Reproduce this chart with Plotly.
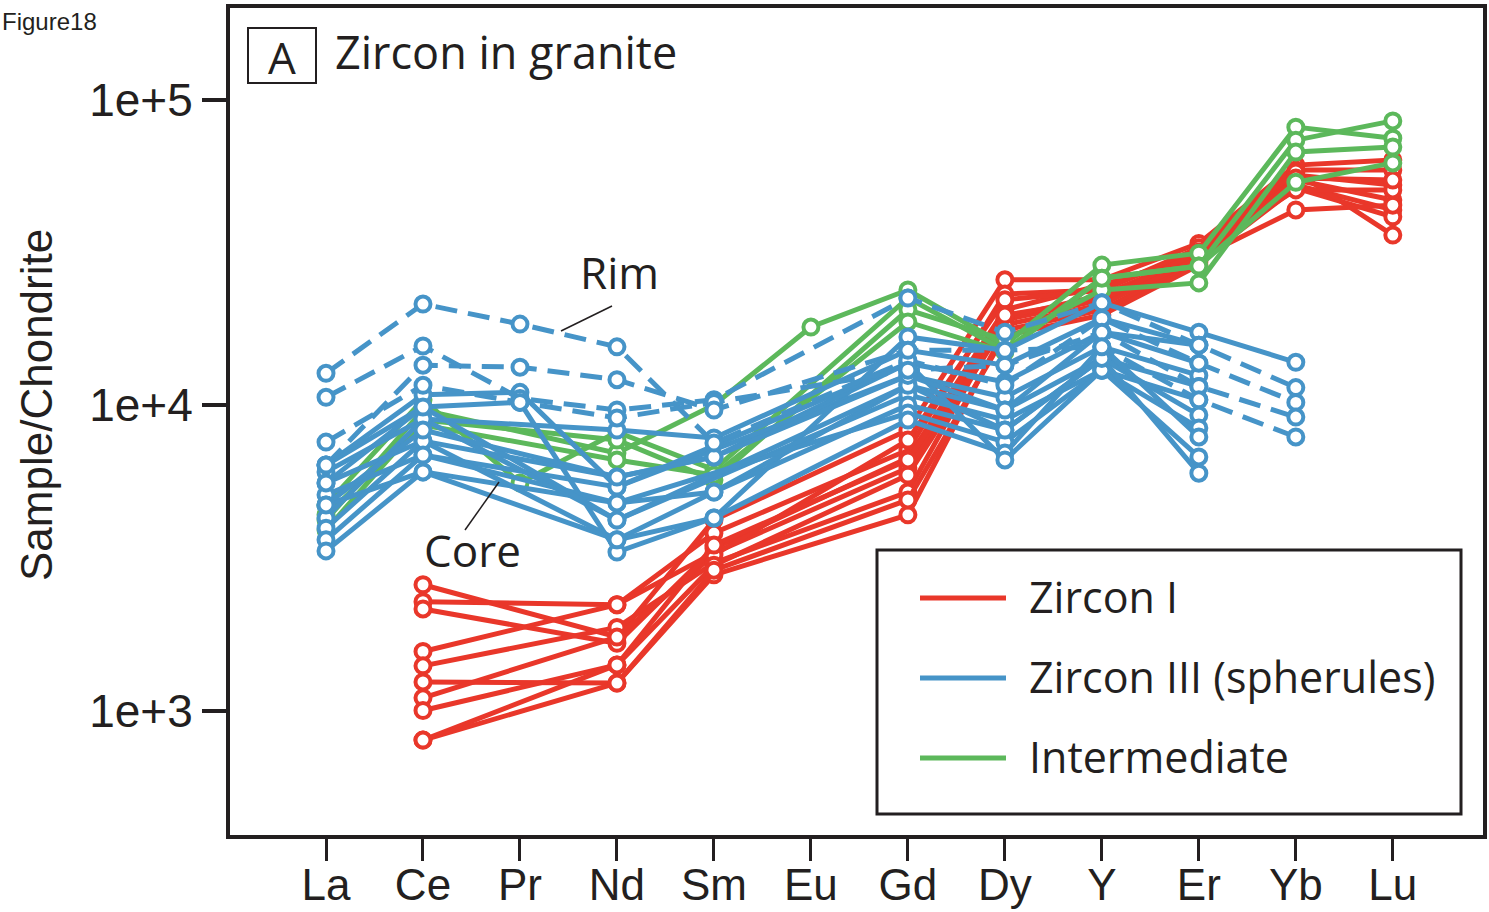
import plotly.graph_objects as go

# REE pattern of zircon, chondrite normalised
elements = ["La", "Ce", "Pr", "Nd", "Sm", "Eu", "Gd", "Dy", "Y", "Er", "Yb", "Lu"]
N = None

# Zircon I (La, Ce, Pr, Nd, Sm, Eu, Gd, Dy, Y, Er, Yb, Lu)
zircon_i = [
    [N, 2580, N, 1740, 4200, N, 8280, 25700, 25700, 33800, 61000, 63400],
    [N, 2270, N, 2220, 3810, N, 7120, 23100, 23800, 32200, 58800, 58800],
    [N, 2150, N, 1660, 3400, N, 6710, 20500, 24700, 31000, 56600, 52500],
    [N, 1560, N, 2220, 3280, N, 6220, 19000, 22100, 29800, 54500, 46900],
    [N, 1400, N, 1870, 3040, N, 5190, 19300, 22900, 31000, 52500, 43500],
    [N, 1240, N, 1230, 2780, N, 4370, 17600, 20500, 29400, 51300, 41300],
    [N, 1100, N, 1740, 3230, N, 7680, 22100, 23800, 32700, 57900, 36000],
    [N, 1000, N, 1410, 2990, N, 5900, 18300, 21300, 30300, 43500, 45100],
    [N, 800, N, 1410, 3480, N, 6610, 19700, 22100, 31700, 50600, 50600],
    [N, 800, N, 1230, 2880, N, 4890, 16900, 19700, 28700, 55300, 54500],
]

# Zircon III (spherules), core analyses
zircon_iii_core = [
    [6360, 9850, 10200, 3300, 4270, N, 16700, 15100, 21600, 17300, 13800, N],
    [6040, 9000, N, 8280, 7800, N, 15100, 13500, 19200, 15700, N, N],
    [5560, 7620, N, 5810, 6760, N, 13700, 11900, 17300, 13700, N, N],
    [5080, 6860, N, 5390, N, N, 12500, 10600, 15500, 12500, N, N],
    [4710, 6040, N, 4780, 5190, N, 11600, 9630, 14200, 11500, N, N],
    [4270, 9000, N, 4200, N, N, 10800, 8930, 13000, 10400, N, N],
    [3950, 7620, N, 3620, 5190, N, 10000, 8280, 14200, 9270, N, N],
    [3620, 6860, N, 4780, N, N, 9410, 7560, 13000, 8410, N, N],
    [3330, 6040, N, 3620, 4270, N, 8930, 6960, 15500, 7860, N, N],
    [6360, 10800, 11000, 5390, N, N, 13700, 6610, 13000, 6760, N, N],
    [5560, 9850, N, 4200, N, N, 11600, 8280, 14200, 5980, N, N],
    [4710, 8280, N, 5810, 6760, N, 12500, 9630, 17300, 15700, N, N],
]

# Zircon III (spherules), rim analyses
zircon_iii_rim = [
    [12700, 21400, 18400, 15500, 7510, N, 14000, 11600, 19200, 13700, 10200, N],
    [10600, 15600, 10500, 9630, 10400, N, 22400, 17300, 21600, 15700, 11400, N],
    [7560, 11600, 10200, 9070, 10200, N, 13000, 13500, 17300, 11500, 9130, N],
    [6360, 13500, 13300, 12100, 9630, N, 15100, 15100, 15500, 10400, 7860, N],
]

# Intermediate
intermediate = [
    [4200, 9630, N, 6960, 10000, 18000, 23800, 15700, 28700, 31400, 81200, 74700],
    [4710, 10400, 5560, 8160, 6130, N, 22400, 15100, 26000, 28500, 73600, 85100],
    [3900, 8930, N, 7680, 5680, N, 20500, 16300, 23800, 25100, 67300, 69900],
    [4370, 8600, N, 6610, 5900, N, 18700, 14900, 26000, 28500, 53600, 62000],
]

legend_labels = ["Zircon I", "Zircon III (spherules)", "Intermediate"]
RED = "#E9372A"
BLUE = "#4694C8"
GREEN = "#5CB85B"
INK = "#231F20"

W, H = 1489, 912
ML, MR, MT, MB = 230, 6, 8, 77
PW, PH = W - ML - MR, H - MT - MB


def px(x):
    return (x - ML) / PW


def py(y):
    return (H - MB - y) / PH


x_idx = list(range(len(elements)))
fig = go.Figure()


def add_series(values, color, dash="solid"):
    fig.add_trace(go.Scatter(
        x=x_idx, y=values, mode="lines+markers", connectgaps=True,
        line=dict(color=color, width=5, dash=dash),
        marker=dict(symbol="circle", size=15, color="white",
                    line=dict(color=color, width=4)),
        showlegend=False, hoverinfo="skip",
    ))


for s in zircon_i:
    add_series(s, RED)
for s in intermediate:
    add_series(s, GREEN)
for s in zircon_iii_core:
    add_series(s, BLUE)
for s in zircon_iii_rim:
    add_series(s, BLUE, dash="22px,11px")

fig.update_xaxes(
    range=[-0.99, 11.93], tickvals=x_idx, ticktext=elements,
    showline=True, mirror=True, linewidth=4, linecolor=INK,
    ticks="outside", ticklen=22, tickwidth=3, tickcolor=INK,
    showgrid=False, zeroline=False, automargin=False, ticklabelstandoff=-14,
    tickfont=dict(family="Liberation Sans, Arial", size=44, color=INK),
)
fig.update_yaxes(
    type="log", range=[2.5925, 5.2995],
    tickvals=[1e3, 1e4, 1e5], ticktext=["1e+3", "1e+4", "1e+5"],
    showline=True, mirror=True, linewidth=4, linecolor=INK,
    ticks="outside", ticklen=24, tickwidth=4, tickcolor=INK,
    showgrid=False, zeroline=False, ticklabelstandoff=0, automargin=False,
    tickfont=dict(family="Liberation Sans, Arial", size=46, color=INK),
)

shapes = []
annotations = []
TXT = "Open Sans"

# y-axis title
annotations.append(dict(text="Sample/Chondrite", x=px(37), y=py(405), xref="paper",
                        yref="paper", showarrow=False, textangle=-90,
                        xanchor="center", yanchor="middle",
                        font=dict(family="Liberation Sans, Arial", size=44, color=INK)))

# panel label box and title
shapes.append(dict(type="rect", xref="paper", yref="paper",
                   x0=px(248), x1=px(316), y0=py(83), y1=py(28),
                   line=dict(color=INK, width=2)))
annotations.append(dict(text="A", x=px(282), y=py(57), xref="paper", yref="paper",
                        showarrow=False, xanchor="center", yanchor="middle",
                        font=dict(family=TXT, size=44, color=INK)))
annotations.append(dict(text="Zircon in granite", x=px(333), y=py(52), xref="paper",
                        yref="paper", showarrow=False, xanchor="left", yanchor="middle",
                        font=dict(family=TXT, size=45, color=INK)))
annotations.append(dict(text="Figure18", x=px(0), y=py(22), xref="paper", yref="paper",
                        showarrow=False, xanchor="left", yanchor="middle",
                        font=dict(family="Liberation Sans, Arial", size=24, color=INK)))

# Rim / Core callouts
annotations.append(dict(text="Rim", x=px(619), y=py(272), xref="paper", yref="paper",
                        showarrow=False, xanchor="center", yanchor="middle",
                        font=dict(family=TXT, size=44, color=INK)))
shapes.append(dict(type="line", xref="paper", yref="paper",
                   x0=px(612), y0=py(306), x1=px(561), y1=py(331),
                   line=dict(color=INK, width=1.5)))
annotations.append(dict(text="Core", x=px(472), y=py(550), xref="paper", yref="paper",
                        showarrow=False, xanchor="center", yanchor="middle",
                        font=dict(family=TXT, size=44, color=INK)))
shapes.append(dict(type="line", xref="paper", yref="paper",
                   x0=px(465), y0=py(530), x1=px(499), y1=py(482),
                   line=dict(color=INK, width=1.5)))

# legend box
shapes.append(dict(type="rect", xref="paper", yref="paper",
                   x0=px(877), x1=px(1461), y0=py(814), y1=py(550),
                   fillcolor="white", line=dict(color=INK, width=3), layer="above"))
for label, color, yy in zip(legend_labels, [RED, BLUE, GREEN], [598, 678, 758]):
    shapes.append(dict(type="line", xref="paper", yref="paper",
                       x0=px(920), x1=px(1006), y0=py(yy), y1=py(yy),
                       line=dict(color=color, width=5), layer="above"))
    annotations.append(dict(text=label, x=px(1027), y=py(yy - 2), xref="paper",
                            yref="paper", showarrow=False, xanchor="left",
                            yanchor="middle",
                            font=dict(family=TXT, size=43, color=INK)))

fig.update_layout(
    width=W, height=H,
    margin=dict(l=ML, r=MR, t=MT, b=MB),
    paper_bgcolor="white", plot_bgcolor="white",
    shapes=shapes, annotations=annotations,
)

fig.write_html("out.html")
